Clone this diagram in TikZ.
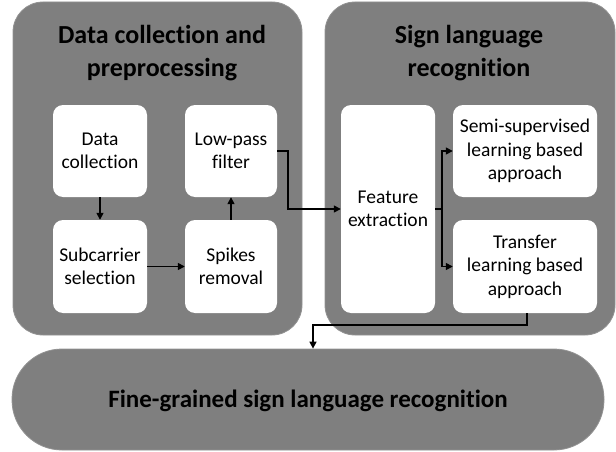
\documentclass[tikz,border=0pt]{standalone}
\usepackage{fontspec}
\setmainfont{Carlito}[Ligatures={NoCommon}]
\usetikzlibrary{arrows.meta}
\definecolor{panelgray}{HTML}{7F7F7F}
\begin{document}
\begin{tikzpicture}[x=1pt,y=-1pt,
  panel/.style={fill=panelgray, draw=panelgray!85!white, line width=0.8pt, rounded corners=30pt},
  titletext/.style={font=\fontsize{26}{33}\selectfont\bfseries, align=center, text=black},
  inbox/.style={fill=white, rounded corners=10pt, align=center, inner sep=0pt,
    font=\fontsize{19.5}{23.5}\selectfont},
  arr/.style={line width=1.5pt, -{Triangle[length=7pt,width=7pt]}},
  plain/.style={line width=1.5pt}]
\useasboundingbox (0,0) rectangle (616,452);
% panels
\node[panel, minimum width=289pt, minimum height=333pt] (lpanel) at (157.5,168.5) {};
\node[panel, minimum width=290pt, minimum height=333pt] (rpanel) at (470,168.5) {};
\node[panel, rounded corners=50pt, minimum width=592pt, minimum height=101pt] (pill) at (308,399.5) {};
% titles
\node[titletext] (ltitle) at (162,53) {Data collection and\\preprocessing};
\node[titletext] (rtitle) at (469,53) {Sign language\\recognition};
\node[titletext, font=\fontsize{25}{30}\selectfont\bfseries] (ptitle) at (308,401) {Fine-grained sign language recognition};
% inner boxes
\node[inbox, minimum width=94pt, minimum height=92pt] (dc) at (100,151) {Data\\collection};
\node[inbox, minimum width=92pt, minimum height=92pt] (lp) at (231,151) {Low-pass\\filter};
\node[inbox, minimum width=94pt, minimum height=93pt] (sub) at (100,266.5) {Subcarrier\\selection};
\node[inbox, minimum width=92pt, minimum height=93pt] (spk) at (231,266.5) {Spikes\\removal};
\node[inbox, minimum width=94pt, minimum height=208pt] (fe) at (388,209) {Feature\\extraction};
\node[inbox, minimum width=144pt, minimum height=92pt] (semi) at (525,151) {Semi-supervised\\learning based\\approach};
\node[inbox, minimum width=144pt, minimum height=93pt] (tr) at (525,266.5) {Transfer\\learning based\\approach};
% connectors
\draw[arr] (dc) -- (sub);
\draw[arr] (sub) -- (spk);
\draw[arr] (spk) -- (lp);
\draw[arr] (lp.east) -- ++(11,0) |- (fe.west);
\draw[plain] (fe.east) -- ++(7,0) coordinate (br);
\draw[arr] (br) |- (semi.west);
\draw[arr] (br) |- (tr.west);
\draw[arr] ([xshift=2pt]tr.south) -- ++(0,12) -| ([xshift=5pt]pill.north);
\end{tikzpicture}
\end{document}
